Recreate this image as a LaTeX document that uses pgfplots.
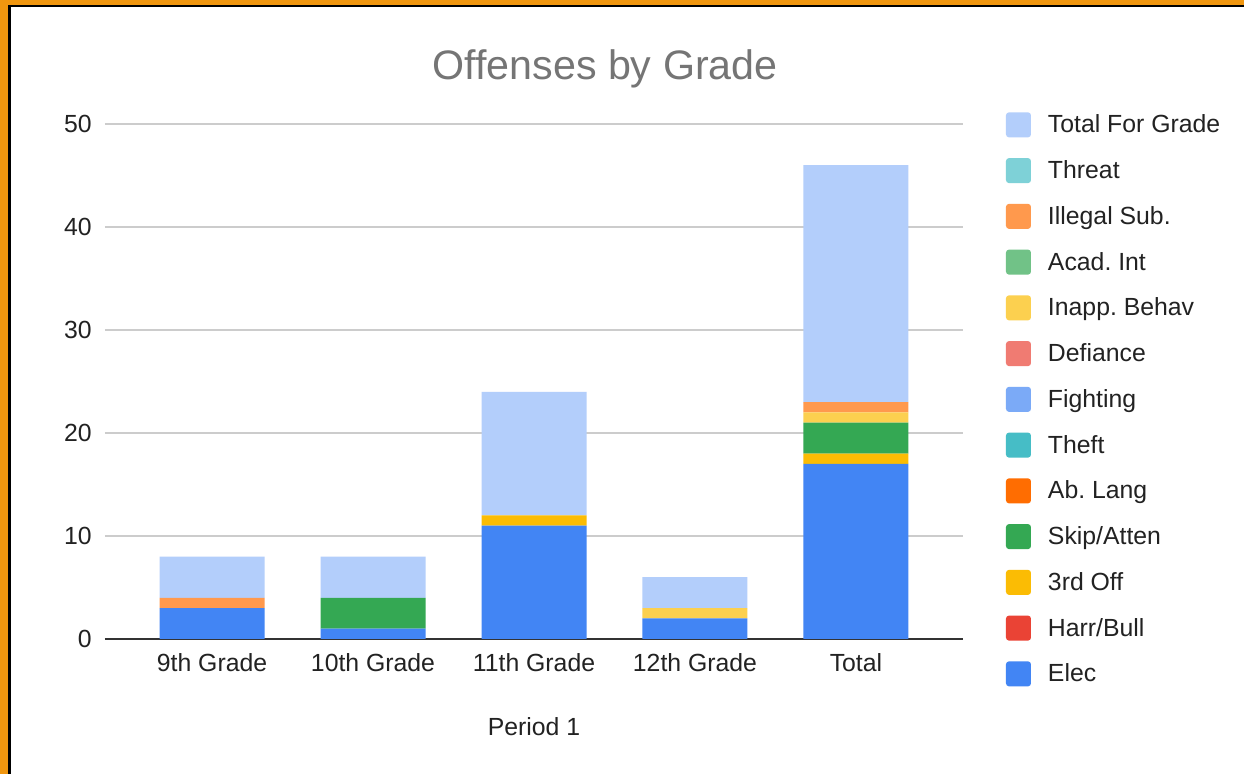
\documentclass[border=0pt]{standalone}
\usepackage{pgfplots}
\pgfplotsset{compat=1.18}
\usepackage{fontspec}
\setmainfont{Liberation Sans}
\frenchspacing
\definecolor{cElec}{HTML}{4285F4}
\definecolor{cHarr}{HTML}{EA4335}
\definecolor{cThird}{HTML}{FBBC04}
\definecolor{cSkip}{HTML}{34A853}
\definecolor{cAbLang}{HTML}{FF6D01}
\definecolor{cTheft}{HTML}{46BDC6}
\definecolor{cFight}{HTML}{7BAAF7}
\definecolor{cDefi}{HTML}{F07B72}
\definecolor{cInapp}{HTML}{FCD04F}
\definecolor{cAcad}{HTML}{71C287}
\definecolor{cIlleg}{HTML}{FF994D}
\definecolor{cThreat}{HTML}{7ED1D7}
\definecolor{cTotal}{HTML}{B3CEFB}
\definecolor{frameorange}{HTML}{F0960F}
\definecolor{titlegray}{HTML}{757575}
\definecolor{textdark}{HTML}{222222}
\definecolor{gridgray}{HTML}{CCCCCC}
\definecolor{zeroline}{HTML}{333333}
\begin{document}
\begin{tikzpicture}
\useasboundingbox (0,0) rectangle (622pt,387pt);
\fill[frameorange] (0,0) rectangle (622pt,387pt);
\fill[black] (4pt,0) rectangle (622pt,384.5pt);
\fill[white] (5.5pt,0) rectangle (622pt,383.5pt);
\begin{axis}[
  at={(52.5pt,67.5pt)}, anchor=south west,
  scale only axis, width=429pt, height=257.5pt,
  ybar stacked, bar width=52.5pt,
  xmin=-0.665, xmax=4.665, ymin=0, ymax=50,
  xtick={0,1,2,3,4},
  xticklabels={9th Grade,10th Grade,11th Grade,12th Grade,Total},
  ytick={0,10,20,30,40,50},
  major tick length=0pt,
  axis line style={draw=none},
  ymajorgrids, grid style={gridgray, line width=0.7pt},
  extra y ticks={0}, extra y tick labels={},
  extra y tick style={grid style={zeroline, line width=0.9pt}},
  /pgf/number format/assume math mode=true,
  tick label style={font=\fontsize{12.4}{14}\selectfont, text=textdark},
  xticklabel style={anchor=base, yshift=-16.5pt},
  yticklabel style={anchor=east, inner sep=0pt, xshift=-6.5pt},
  xlabel={Period 1},
  xlabel style={at={(axis description cs:0.5,0)}, anchor=base, yshift=-48.25pt, font=\fontsize{12.4}{14}\selectfont, text=textdark},
  title={Offenses by Grade},
  title style={at={(axis description cs:0.5828,1.0622)}, anchor=base, font=\fontsize{20.6}{24}\selectfont, text=titlegray},
  reverse legend,
  legend cell align=left,
  legend style={at={(1.0501,1.0373)}, anchor=north west, draw=none, fill=none, inner sep=0pt, outer sep=0pt,
    font=\fontsize{12.4}{14}\selectfont, text=textdark,
    nodes={inner sep=0pt, text height=14pt, text depth=8.875pt},
    row sep=0pt,
    /tikz/every odd column/.append style={column sep=8.5pt}},
  legend image code/.code={\fill[#1, rounded corners=1.5pt] (0pt,-4.85pt) rectangle (12.5pt,7.65pt);},
]
\addplot[fill=cElec, draw=none] coordinates {(0,3) (1,1) (2,11) (3,2) (4,17)};
\addlegendentry{Elec}
\addplot[fill=cHarr, draw=none] coordinates {(0,0) (1,0) (2,0) (3,0) (4,0)};
\addlegendentry{Harr/Bull}
\addplot[fill=cThird, draw=none] coordinates {(0,0) (1,0) (2,1) (3,0) (4,1)};
\addlegendentry{3rd Off}
\addplot[fill=cSkip, draw=none] coordinates {(0,0) (1,3) (2,0) (3,0) (4,3)};
\addlegendentry{Skip/Atten}
\addplot[fill=cAbLang, draw=none] coordinates {(0,0) (1,0) (2,0) (3,0) (4,0)};
\addlegendentry{Ab. Lang}
\addplot[fill=cTheft, draw=none] coordinates {(0,0) (1,0) (2,0) (3,0) (4,0)};
\addlegendentry{Theft}
\addplot[fill=cFight, draw=none] coordinates {(0,0) (1,0) (2,0) (3,0) (4,0)};
\addlegendentry{Fighting}
\addplot[fill=cDefi, draw=none] coordinates {(0,0) (1,0) (2,0) (3,0) (4,0)};
\addlegendentry{Defiance}
\addplot[fill=cInapp, draw=none] coordinates {(0,0) (1,0) (2,0) (3,1) (4,1)};
\addlegendentry{Inapp. Behav}
\addplot[fill=cAcad, draw=none] coordinates {(0,0) (1,0) (2,0) (3,0) (4,0)};
\addlegendentry{Acad. Int}
\addplot[fill=cIlleg, draw=none] coordinates {(0,1) (1,0) (2,0) (3,0) (4,1)};
\addlegendentry{Illegal Sub.}
\addplot[fill=cThreat, draw=none] coordinates {(0,0) (1,0) (2,0) (3,0) (4,0)};
\addlegendentry{Threat}
\addplot[fill=cTotal, draw=none] coordinates {(0,4) (1,4) (2,12) (3,3) (4,23)};
\addlegendentry{Total For Grade}
\end{axis}
\end{tikzpicture}
\end{document}
